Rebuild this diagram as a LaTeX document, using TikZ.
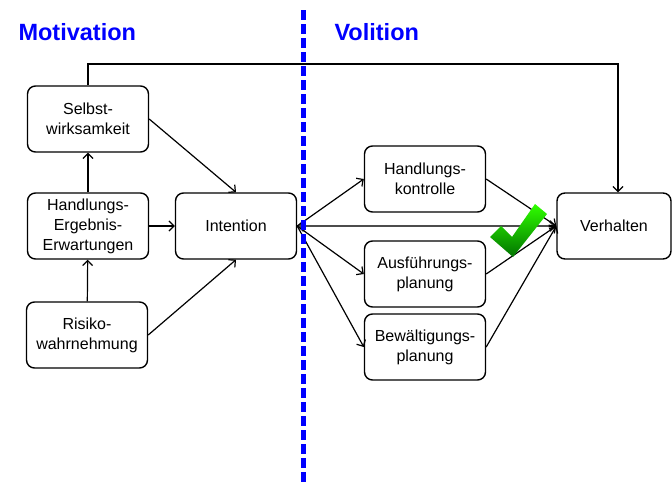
\documentclass[tikz,border=0pt]{standalone}
\usepackage{fontspec}
\setmainfont{Liberation Sans}
\usetikzlibrary{arrows.meta,positioning,calc}

\begin{document}
\begin{tikzpicture}[
    x=1pt, y=-1pt,
    font=\fontsize{16}{20}\selectfont,
    block/.style={draw, line width=1.4pt, rounded corners=8pt, align=center, minimum width=121pt, minimum height=66pt, inner sep=2pt},
    title/.style={anchor=base west, text=blue, font=\fontsize{23.5}{26}\selectfont\bfseries},
    line/.style={-{Straight Barb[length=5pt, width=10pt]}, line width=1.2pt},
    back/.style={{Straight Barb[length=5pt, width=10pt]}-{Straight Barb[length=5pt, width=10pt]}, line width=2.4pt, draw=black!70}
]
    \useasboundingbox (0,0) rectangle (672,482);

    % Motivation
    \node[title] (mot) at (15,40) {Motivation};
    \node[block] (selbst) at (88,119) {Selbst-\\wirksamkeit};
    \node[block] (hee) at (88,226) {Handlungs-\\Ergebnis-\\Erwartungen};
    \node[block] (risiko) at (87,335) {Risiko-\\wahrnehmung};
    \node[block] (intention) at (236,226) {Intention};

    % Volition
    \node[title] (vol) at (331,40) {Volition};
    \node[block] (kontrolle) at (425,179) {Handlungs-\\kontrolle};
    \node[block] (ausf) at (425,274) {Ausführungs-\\planung};
    \node[block] (bewaelt) at (425,347) {Bewältigungs-\\planung};
    \node[block, minimum width=114pt] (verhalten) at (614,226) {Verhalten};

    \coordinate (top) at (618,64);

    \draw[line] (risiko) -- (hee);
    \draw[line] (hee) -- (selbst);
    \draw[line] (selbst.east) -- (intention.north);
    \draw[line] (hee) -- (intention);
    \draw[line] (risiko.east) -- (intention.south);

    \draw[back] (intention.east) -- (verhalten.west);
    \draw[line] (intention.east) -- (kontrolle.west);
    \draw[line] (intention.east) -- (ausf.west);
    \draw[line] (intention.east) -- (bewaelt.west);
    \draw[line] (kontrolle.east) -- (verhalten.west);
    \draw[line] (ausf.east) -- (verhalten.west);
    \draw[line] (bewaelt.east) -- (verhalten.west);
    \draw[line] (selbst.north) |- (top) -- (top |- verhalten.north);

    % divider
    \draw[blue, line width=5pt, dash pattern=on 10pt off 4pt] (303,10) -- (303,482);

    % check mark
    \shade[top color=green!75!lime, bottom color=green!45!black]
        (490,237) -- (501,226) -- (512,237) -- (535,204) -- (547,214) -- (513,257) -- cycle;
\end{tikzpicture}
\end{document}
